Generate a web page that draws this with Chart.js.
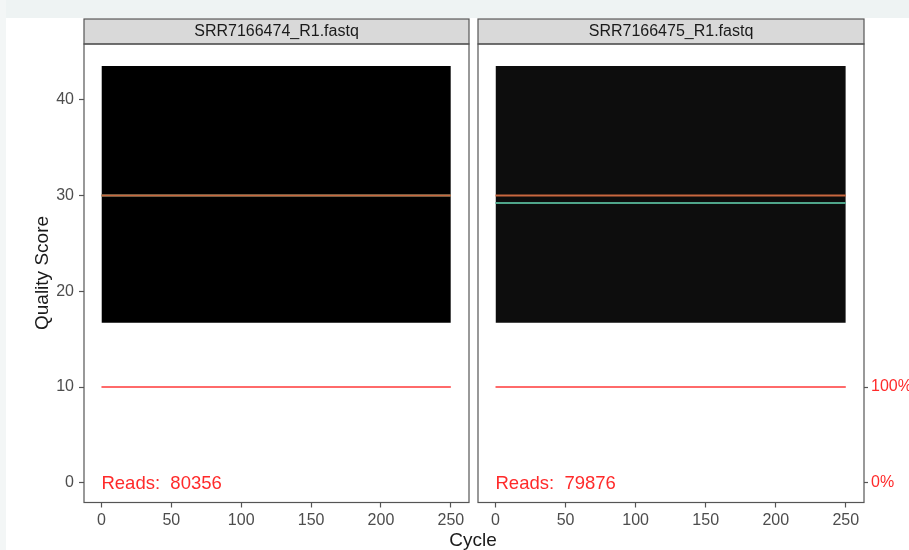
<!DOCTYPE html>
<html>
<head>
<meta charset="utf-8">
<title>Quality profiles</title>
<script src="https://cdn.jsdelivr.net/npm/chart.js@4.4.1/dist/chart.umd.min.js"></script>
<style>
  html, body { margin: 0; padding: 0; background: #ffffff; }
  #wrap { position: relative; width: 909px; height: 550px; overflow: hidden; background: #ffffff; }
  #band { position: absolute; left: 0; top: 0; width: 909px; height: 18px; background: #eef3f3; }
  #side { position: absolute; left: 0; top: 0; width: 6px; height: 550px; background: #f3f6f6; }
  canvas { position: absolute; left: 0; top: 0; }
</style>
</head>
<body>
<div id="wrap">
  <div id="band"></div>
  <div id="side"></div>
  <canvas id="left" width="909" height="550"></canvas>
  <canvas id="right" width="909" height="550"></canvas>
</div>
<script>
// Per-sample quality profile summaries
const samples = ['SRR7166474_R1.fastq', 'SRR7166475_R1.fastq'];
const readCounts = [80356, 79876];
const cycleSpan = [0, 250];                 // first and last cycle
const tileLow = [16.7, 16.7];               // lower edge of the score heatmap
const tileHigh = [43.5, 43.5];              // upper edge of the score heatmap
const meanQuality = [30, 29.2];             // green line
const medianQuality = [30, 30];             // orange line
const cumulativePct = [100, 100];           // reads still present (red line), 100% -> Q10
const cycleTicks = [0, 50, 100, 150, 200, 250];
const qualityTicks = [0, 10, 20, 30, 40];
const pctTicks = [0, 100];

const FONT = 'Liberation Sans, Arial, sans-serif';
const TICK_GREY = '#4d4d4d';
const LINE_GREY = '#555555';
const X_MIN = -12.5, X_MAX = 263;
const Y_MIN = -2.05, Y_MAX = 45.8;
const tileShade = ['#000000', '#0d0d0d'];

Chart.defaults.font.family = FONT;
Chart.defaults.animation = false;

function flat(v) {
  return [{ x: cycleSpan[0], y: v }, { x: cycleSpan[1], y: v }];
}

function datasetsFor(i) {
  return [
    { label: 'tile', data: flat(tileHigh[i]), fill: { value: tileLow[i] },
      backgroundColor: tileShade[i], borderWidth: 0, pointRadius: 0, order: 4 },
    { label: 'cumulative', data: flat(cumulativePct[i] / 10), borderColor: '#ff6a6a',
      borderWidth: 2, pointRadius: 0, fill: false, order: 3 },
    { label: 'mean', data: flat(meanQuality[i]), borderColor: '#4fa58a',
      borderWidth: 2, pointRadius: 0, fill: false, order: 2 },
    { label: 'median', data: flat(medianQuality[i]), borderColor: '#c8673f',
      borderWidth: 2, pointRadius: 0, fill: false, order: 1 }
  ];
}

function xScale() {
  return {
    type: 'linear', min: X_MIN, max: X_MAX,
    afterBuildTicks: s => { s.ticks = cycleTicks.map(v => ({ value: v })); },
    afterFit: s => { s.height = 47.5; },
    ticks: { color: TICK_GREY, font: { size: 16 }, padding: 3, maxRotation: 0, autoSkip: false },
    grid: { drawOnChartArea: false, tickLength: 5, tickColor: LINE_GREY, tickWidth: 1.2 },
    border: { display: false }
  };
}

// Strip header, panel frame and read count label
function panelPlugin(i) {
  return {
    id: 'panel' + i,
    beforeDraw(chart) {
      const a = chart.chartArea, ctx = chart.ctx;
      ctx.save();
      ctx.fillStyle = '#d9d9d9';
      ctx.fillRect(a.left, 19, a.right - a.left, a.top - 19);
      ctx.strokeStyle = LINE_GREY;
      ctx.lineWidth = 1.2;
      ctx.strokeRect(a.left, 19, a.right - a.left, a.top - 19);
      ctx.fillStyle = '#1a1a1a';
      ctx.font = '16px ' + FONT;
      ctx.textAlign = 'center';
      ctx.textBaseline = 'middle';
      ctx.fillText(samples[i], (a.left + a.right) / 2, 31.5);
      ctx.restore();
    },
    afterDraw(chart) {
      const a = chart.chartArea, ctx = chart.ctx;
      const xs = chart.scales.x, ys = chart.scales.y;
      ctx.save();
      ctx.strokeStyle = LINE_GREY;
      ctx.lineWidth = 1.2;
      ctx.strokeRect(a.left, a.top, a.right - a.left, a.bottom - a.top);
      ctx.fillStyle = '#ff2a2a';
      ctx.font = '18.5px ' + FONT;
      ctx.textAlign = 'left';
      ctx.textBaseline = 'middle';
      ctx.fillText('Reads:  ' + readCounts[i], xs.getPixelForValue(cycleSpan[0]), ys.getPixelForValue(0) + 1);
      ctx.fillStyle = '#1a1a1a';
      ctx.font = '19px ' + FONT;
      if (i === 0) {
        ctx.translate(43, 273);
        ctx.rotate(-Math.PI / 2);
        ctx.textAlign = 'center';
        ctx.fillText('Quality Score', 0, 0);
      } else {
        ctx.textAlign = 'center';
        ctx.fillText('Cycle', 473, 541);
      }
      ctx.restore();
    }
  };
}

new Chart(document.getElementById('left'), {
  type: 'line',
  data: { datasets: datasetsFor(0) },
  options: {
    responsive: false,
    devicePixelRatio: 1,
    layout: { padding: { left: 0, right: 440, top: 44, bottom: 0 } },
    plugins: { legend: { display: false }, tooltip: { enabled: false } },
    scales: {
      x: xScale(),
      y: {
        type: 'linear', min: Y_MIN, max: Y_MAX,
        afterBuildTicks: s => { s.ticks = qualityTicks.map(v => ({ value: v })); },
        afterFit: s => { s.width = 84; },
        ticks: { color: TICK_GREY, font: { size: 16 }, padding: 5 },
        grid: { drawOnChartArea: false, tickLength: 5, tickColor: LINE_GREY, tickWidth: 1.2 },
        border: { display: false }
      }
    }
  },
  plugins: [panelPlugin(0)]
});

new Chart(document.getElementById('right'), {
  type: 'line',
  data: { datasets: datasetsFor(1) },
  options: {
    responsive: false,
    devicePixelRatio: 1,
    layout: { padding: { left: 478, right: 0, top: 44, bottom: 0 } },
    plugins: { legend: { display: false }, tooltip: { enabled: false } },
    scales: {
      x: xScale(),
      y: { type: 'linear', min: Y_MIN, max: Y_MAX, display: false },
      pct: {
        type: 'linear', position: 'right', min: Y_MIN * 10, max: Y_MAX * 10,
        afterBuildTicks: s => { s.ticks = pctTicks.map(v => ({ value: v })); },
        afterFit: s => { s.width = 45; },
        ticks: { color: '#ff2a2a', font: { size: 16 }, padding: 3, callback: v => v + '%' },
        grid: { drawOnChartArea: false, tickLength: 4, tickColor: LINE_GREY, tickWidth: 1.2 },
        border: { display: false }
      }
    }
  },
  plugins: [panelPlugin(1)]
});
</script>
</body>
</html>
